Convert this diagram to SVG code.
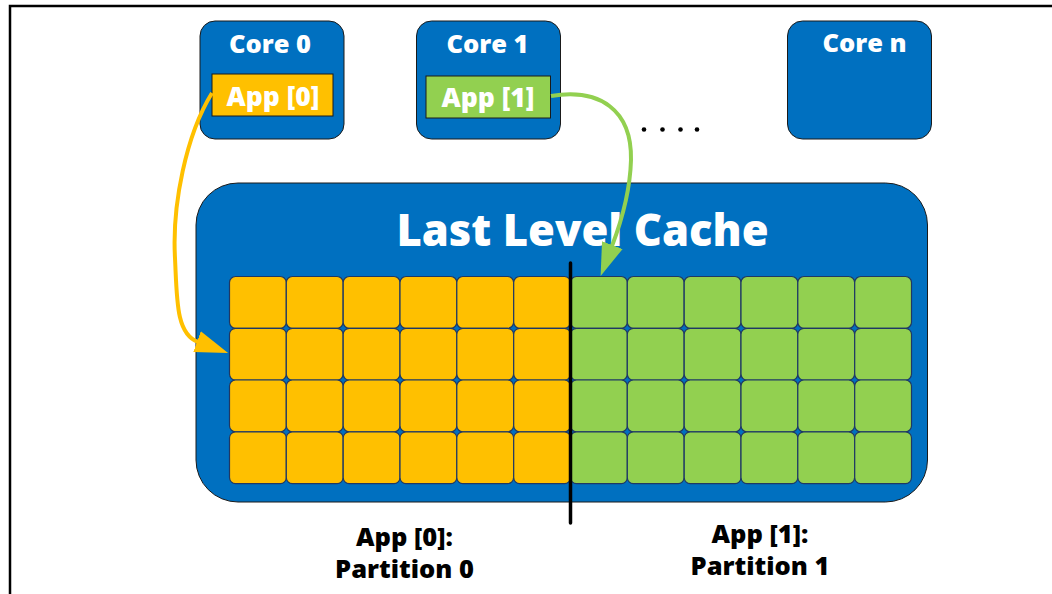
<svg xmlns="http://www.w3.org/2000/svg" width="1052" height="594" viewBox="0 0 1052 594">
<style>
.bg{fill:#ffffff}
.frame{fill:none;stroke:#000;stroke-width:2.5}
.core{fill:#0070C0;stroke:#1a1a1a;stroke-width:1}
.app0{fill:#FFC000;stroke:#1a1a1a;stroke-width:1}
.app1{fill:#92D050;stroke:#1a1a1a;stroke-width:1}
.cy{fill:#FFC000;stroke:#1F3864;stroke-width:1.2}
.cg{fill:#92D050;stroke:#1F3864;stroke-width:1.2}
.wt{font-family:"Open Sans","Liberation Sans",sans-serif;font-weight:800;fill:#fff;text-anchor:middle}
.bt{font-family:"Open Sans","Liberation Sans",sans-serif;font-weight:800;fill:#000;text-anchor:middle;font-size:25.5px}
.ay{fill:none;stroke:#FFC000;stroke-width:4}
.ag{fill:none;stroke:#92D050;stroke-width:4}
</style>
<defs>
<marker id="mY" markerUnits="userSpaceOnUse" markerWidth="34" markerHeight="24" refX="1" refY="12" orient="auto" viewBox="0 0 34 24">
<path d="M0 1 L33 12 L0 23 Z" fill="#FFC000"/>
</marker>
<marker id="mG" markerUnits="userSpaceOnUse" markerWidth="34" markerHeight="24" refX="1" refY="12" orient="auto" viewBox="0 0 34 24">
<path d="M0 1 L33 12 L0 23 Z" fill="#92D050"/>
</marker>
</defs>
<rect class="bg" x="0" y="0" width="1052" height="594"/>
<path class="frame" d="M10 600 V6 H1060"/>

<g id="core0">
<rect class="core" x="200" y="21" width="144" height="118" rx="15"/>
<text class="wt" x="270" y="52.5" font-size="25.5">Core 0</text>
</g>
<g id="app0">
<rect class="app0" x="212" y="74" width="121" height="42"/>
<text class="wt" x="273" y="106" font-size="26.5">App [0]</text>
</g>
<g id="core1">
<rect class="core" x="416.5" y="21" width="144" height="118" rx="15"/>
<text class="wt" x="487.5" y="52.5" font-size="25.5">Core 1</text>
</g>
<g id="app1">
<rect class="app1" x="426" y="76" width="124.5" height="42"/>
<text class="wt" x="488" y="106.5" font-size="26.5">App [1]</text>
</g>
<g id="coren">
<rect class="core" x="787.5" y="21" width="144" height="118" rx="15"/>
<text class="wt" x="864.5" y="51.5" font-size="25.5">Core n</text>
</g>
<g id="dots" fill="#000">
<circle cx="644" cy="129.5" r="2.3"/>
<circle cx="662.5" cy="129.5" r="2.3"/>
<circle cx="680.5" cy="129.5" r="2.3"/>
<circle cx="697" cy="129.5" r="2.3"/>
</g>

<g id="llc">
<rect class="core" x="196" y="183" width="731.5" height="319" rx="42"/>
<text class="wt" x="582.5" y="245.5" font-size="43.5">Last Level Cache</text>
</g>

<g id="partition0">
<rect class="cy" x="229.5" y="276.5" width="56.8" height="51.8" rx="6"/>
<rect class="cy" x="286.3" y="276.5" width="56.8" height="51.8" rx="6"/>
<rect class="cy" x="343.2" y="276.5" width="56.8" height="51.8" rx="6"/>
<rect class="cy" x="400" y="276.5" width="56.8" height="51.8" rx="6"/>
<rect class="cy" x="456.8" y="276.5" width="56.8" height="51.8" rx="6"/>
<rect class="cy" x="513.7" y="276.5" width="56.8" height="51.8" rx="6"/>
<rect class="cy" x="229.5" y="328.3" width="56.8" height="51.8" rx="6"/>
<rect class="cy" x="286.3" y="328.3" width="56.8" height="51.8" rx="6"/>
<rect class="cy" x="343.2" y="328.3" width="56.8" height="51.8" rx="6"/>
<rect class="cy" x="400" y="328.3" width="56.8" height="51.8" rx="6"/>
<rect class="cy" x="456.8" y="328.3" width="56.8" height="51.8" rx="6"/>
<rect class="cy" x="513.7" y="328.3" width="56.8" height="51.8" rx="6"/>
<rect class="cy" x="229.5" y="380" width="56.8" height="51.8" rx="6"/>
<rect class="cy" x="286.3" y="380" width="56.8" height="51.8" rx="6"/>
<rect class="cy" x="343.2" y="380" width="56.8" height="51.8" rx="6"/>
<rect class="cy" x="400" y="380" width="56.8" height="51.8" rx="6"/>
<rect class="cy" x="456.8" y="380" width="56.8" height="51.8" rx="6"/>
<rect class="cy" x="513.7" y="380" width="56.8" height="51.8" rx="6"/>
<rect class="cy" x="229.5" y="431.8" width="56.8" height="51.8" rx="6"/>
<rect class="cy" x="286.3" y="431.8" width="56.8" height="51.8" rx="6"/>
<rect class="cy" x="343.2" y="431.8" width="56.8" height="51.8" rx="6"/>
<rect class="cy" x="400" y="431.8" width="56.8" height="51.8" rx="6"/>
<rect class="cy" x="456.8" y="431.8" width="56.8" height="51.8" rx="6"/>
<rect class="cy" x="513.7" y="431.8" width="56.8" height="51.8" rx="6"/>
</g>
<g id="partition1">
<rect class="cg" x="570.5" y="276.5" width="56.8" height="51.8" rx="6"/>
<rect class="cg" x="627.3" y="276.5" width="56.8" height="51.8" rx="6"/>
<rect class="cg" x="684.2" y="276.5" width="56.8" height="51.8" rx="6"/>
<rect class="cg" x="741" y="276.5" width="56.8" height="51.8" rx="6"/>
<rect class="cg" x="797.8" y="276.5" width="56.8" height="51.8" rx="6"/>
<rect class="cg" x="854.7" y="276.5" width="56.8" height="51.8" rx="6"/>
<rect class="cg" x="570.5" y="328.3" width="56.8" height="51.8" rx="6"/>
<rect class="cg" x="627.3" y="328.3" width="56.8" height="51.8" rx="6"/>
<rect class="cg" x="684.2" y="328.3" width="56.8" height="51.8" rx="6"/>
<rect class="cg" x="741" y="328.3" width="56.8" height="51.8" rx="6"/>
<rect class="cg" x="797.8" y="328.3" width="56.8" height="51.8" rx="6"/>
<rect class="cg" x="854.7" y="328.3" width="56.8" height="51.8" rx="6"/>
<rect class="cg" x="570.5" y="380" width="56.8" height="51.8" rx="6"/>
<rect class="cg" x="627.3" y="380" width="56.8" height="51.8" rx="6"/>
<rect class="cg" x="684.2" y="380" width="56.8" height="51.8" rx="6"/>
<rect class="cg" x="741" y="380" width="56.8" height="51.8" rx="6"/>
<rect class="cg" x="797.8" y="380" width="56.8" height="51.8" rx="6"/>
<rect class="cg" x="854.7" y="380" width="56.8" height="51.8" rx="6"/>
<rect class="cg" x="570.5" y="431.8" width="56.8" height="51.8" rx="6"/>
<rect class="cg" x="627.3" y="431.8" width="56.8" height="51.8" rx="6"/>
<rect class="cg" x="684.2" y="431.8" width="56.8" height="51.8" rx="6"/>
<rect class="cg" x="741" y="431.8" width="56.8" height="51.8" rx="6"/>
<rect class="cg" x="797.8" y="431.8" width="56.8" height="51.8" rx="6"/>
<rect class="cg" x="854.7" y="431.8" width="56.8" height="51.8" rx="6"/>
</g>

<g id="divider">
<line x1="570.5" y1="263" x2="570.5" y2="523" stroke="#000" stroke-width="3.5" stroke-linecap="round"/>
</g>

<g id="connectors">
<path class="ay" d="M212 93 C186 135 172 205 175 258 C177 300 176 334 198 342" marker-end="url(#mY)"/>
<path class="ag" d="M551 96 C600 88 632 110 631 160 C630 195 620 225 612 246" marker-end="url(#mG)"/>
</g>

<g id="label0">
<text class="bt" x="404.5" y="546">App [0]:</text>
<text class="bt" x="404.5" y="578">Partition 0</text>
</g>
<g id="label1">
<text class="bt" x="760" y="543">App [1]:</text>
<text class="bt" x="760" y="575">Partition 1</text>
</g>
</svg>
